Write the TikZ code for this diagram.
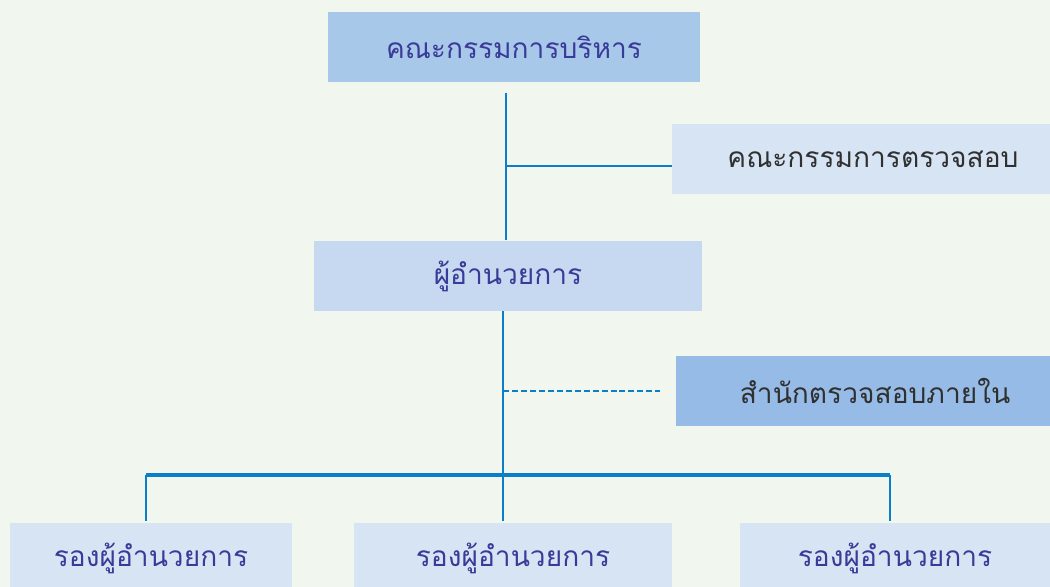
\documentclass[tikz,border=0pt]{standalone}
\usepackage{fontspec}
\newfontfamily\thaifont[Script=Thai]{Loma}
\definecolor{bgcol}{HTML}{F1F7EE}
\definecolor{linecol}{HTML}{0A7EC6}
\definecolor{boardcol}{HTML}{A8C8EA}
\definecolor{dircol}{HTML}{C6D9F0}
\definecolor{palecol}{HTML}{D6E4F4}
\definecolor{auditcol}{HTML}{95BBE6}
\definecolor{bluetext}{HTML}{3A3A98}
\definecolor{greytext}{HTML}{303030}
\begin{document}
\begin{tikzpicture}[x=0.02cm,y=-0.02cm,
	box/.style={inner sep=0pt,minimum height=1.4cm,text=bluetext,
		font=\thaifont\fontsize{16}{19}\selectfont},
	link/.style={linecol,line width=1.6pt}]
	\useasboundingbox (0,0) rectangle (1050,587);
	\fill[bgcol] (0,0) rectangle (1050,587);
	\clip (0,0) rectangle (1050,587);
	% boxes
	\node[box,fill=boardcol,minimum width=7.44cm] (board) at (514,47) {คณะกรรมการบริหาร};
	\node[box,fill=palecol,minimum width=8.04cm,text=greytext] (audit) at (873,159) {คณะกรรมการตรวจสอบ};
	\node[box,fill=dircol,minimum width=7.76cm] (dir) at (508,276) {ผู้อำนวยการ};
	\node[box,fill=auditcol,minimum width=7.96cm,text=greytext] (internal) at (875,391) {สำนักตรวจสอบภายใน};
	\foreach \n/\x/\w in {deputyA/151/5.64cm,deputyB/513/6.38cm,deputyC/895/6.20cm}{
		\node[box,fill=palecol,minimum width=\w] (\n) at (\x,558) {รองผู้อำนวยการ};
	}
	% connectors
	\coordinate (upper) at (506,166);
	\coordinate (lower) at (503,391);
	\coordinate (barA) at (146,475);
	\coordinate (barB) at (503,475);
	\coordinate (barC) at (890,475);
	\draw[link,shorten <=6pt,shorten >=0.5pt] (board.south -| upper) -- (dir.north -| upper);
	\draw[link] (upper) -- (upper -| audit.west);
	\draw[link] (dir.south -| lower) -- (barB);
	\draw[linecol,line width=1pt,dash pattern=on 3.4pt off 1.7pt,shorten >=9pt] (lower) -- (internal.west);
	\draw[linecol,line width=2pt] (barA) -- (barC);
	\foreach \b/\n in {barA/deputyA,barB/deputyB,barC/deputyC}{
		\draw[linecol,line width=1.1pt,shorten >=1pt] (\b) -- (\b |- \n.north);
	}
\end{tikzpicture}
\end{document}
